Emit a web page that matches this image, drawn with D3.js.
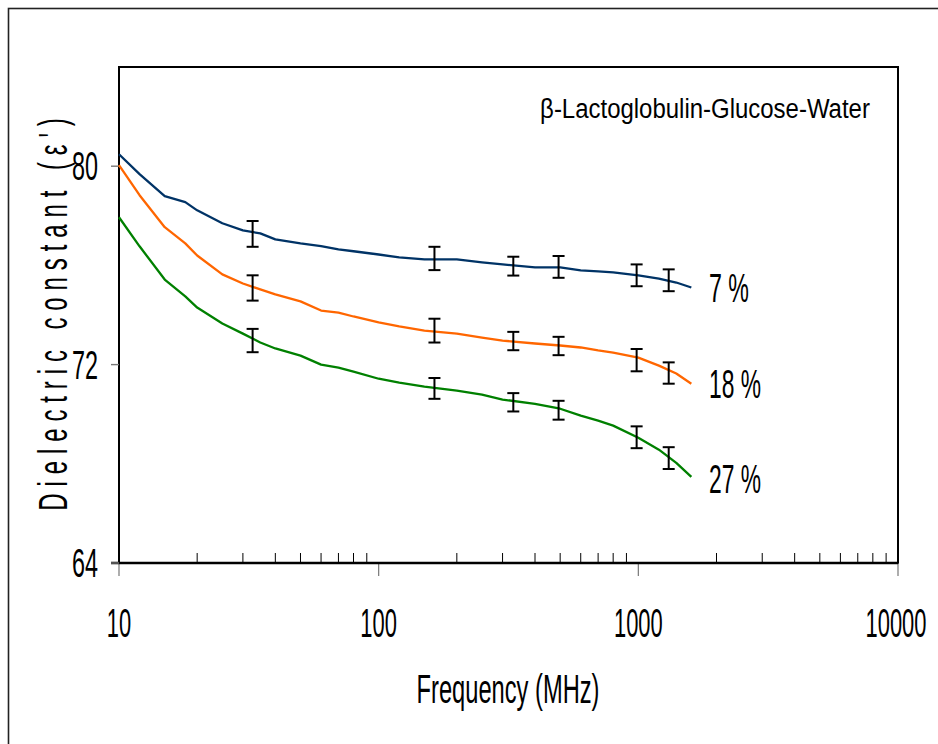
<!DOCTYPE html>
<html>
<head>
<meta charset="utf-8">
<script src="https://cdn.jsdelivr.net/npm/d3@7"></script>
<style>
  html, body { margin: 0; padding: 0; background: #fff; }
  svg { display: block; }
  text { font-family: "Liberation Sans", Arial, sans-serif; fill: #000; }
</style>
</head>
<body>
<svg id="chart" width="938" height="744"></svg>
<script>
// ---- data ----
const freqs = [10,12,15,18,20,25,30,35,40,50,60,70,80,100,120,150,200,250,300,400,500,600,700,800,1000,1200,1400,1600];
const series7  = [80.48,79.68,78.79,78.55,78.22,77.70,77.41,77.29,77.05,76.89,76.78,76.65,76.57,76.44,76.32,76.24,76.24,76.12,76.04,75.92,75.92,75.80,75.76,75.72,75.60,75.47,75.31,75.11];
const series18 = [80.04,78.83,77.54,76.89,76.40,75.64,75.27,75.03,74.83,74.55,74.18,74.10,73.94,73.70,73.54,73.37,73.25,73.09,72.97,72.85,72.77,72.69,72.57,72.48,72.28,71.96,71.64,71.23];
const series27 = [77.94,76.77,75.43,74.75,74.30,73.66,73.25,72.89,72.65,72.36,72.00,71.88,71.72,71.43,71.27,71.11,70.95,70.79,70.59,70.42,70.22,69.94,69.74,69.54,69.05,68.57,68.04,67.47];

const errFreqs = [32.7,164,330,493,985,1309];
const err7Mean  = [77.27,76.28,75.97,75.94,75.60,75.40];
const err7Size  = [0.52,0.47,0.38,0.44,0.44,0.44];
const err18Mean = [75.09,73.37,72.95,72.75,72.18,71.66];
const err18Size = [0.51,0.48,0.37,0.37,0.45,0.43];
const err27Mean = [72.97,71.04,70.48,70.16,69.07,68.23];
const err27Size = [0.47,0.42,0.37,0.38,0.44,0.44];

const seriesLabels = ["7 %","18 %","27 %"];
const yTicks = [64,72,80];
const xTicks = [10,100,1000,10000];
const chartTitle = "β-Lactoglobulin-Glucose-Water";
const xTitle = "Frequency (MHz)";
const yTitle = "Dielectric constant (ε')";

// ---- layout ----
const svg = d3.select("#chart");
const L = 119, R = 898, T = 67, B = 563;
const x = d3.scaleLog().domain([10,10000]).range([L,R]);
const y = d3.scaleLinear().domain([64,84]).range([B,T]);
const colors = ["#003366","#ff6600","#008000"];

// outer frame
svg.append("rect").attr("x",8.5).attr("y",8.5).attr("width",960).attr("height",760)
  .attr("fill","none").attr("stroke","#222").attr("stroke-width",1.6);

// plot frame
svg.append("rect").attr("x",L).attr("y",T).attr("width",R-L).attr("height",B-T)
  .attr("fill","none").attr("stroke","#000").attr("stroke-width",2);

// helper for condensed text: scaled horizontally to a target width
function ctext(g, str, px, py, width, size, anchor) {
  const grp = g.append("g");
  const t = grp.append("text").attr("x",0).attr("y",0)
    .attr("font-size",size).attr("text-anchor",anchor||"middle").text(str);
  const natural = t.node().getComputedTextLength();
  const sx = width / natural;
  grp.attr("transform",`translate(${px},${py}) scale(${sx},1)`);
  return t;
}

// x axis: minor ticks inside (black), major ticks below (gray)
const minor = [];
[10,100,1000].forEach(d => { for (let k=2;k<=9;k++) minor.push(d*k); });
svg.append("g").selectAll("line").data(minor).join("line")
  .attr("x1",d=>x(d)).attr("x2",d=>x(d)).attr("y1",B-10).attr("y2",B)
  .attr("stroke","#000").attr("stroke-width",1);
svg.append("g").selectAll("line").data(xTicks).join("line")
  .attr("x1",d=>x(d)).attr("x2",d=>x(d)).attr("y1",B).attr("y2",B+13)
  .attr("stroke","#777").attr("stroke-width",1.2);
svg.append("line").attr("x1",L-8).attr("x2",R).attr("y1",B).attr("y2",B)
  .attr("stroke","#000").attr("stroke-width",2.6);

const xl = svg.append("g");
xTicks.forEach(d => ctext(xl, String(d), x(d) - (d === 10000 ? 2 : 0), 637, String(d).length*12.2, 40));

// y axis ticks and labels
svg.append("g").selectAll("line").data(yTicks).join("line")
  .attr("x1",L-8).attr("x2",L).attr("y1",d=>y(d)).attr("y2",d=>y(d))
  .attr("stroke","#777").attr("stroke-width",1.4);
const yl = svg.append("g");
yTicks.forEach(d => ctext(yl, String(d), 98, y(d)+14, 26, 40, "end"));

// axis titles
ctext(svg, xTitle, 508, 703, 183, 40);
svg.append("g").attr("transform","translate(67,311) rotate(-90) scale(0.6,1)")
  .append("text").attr("x",0).attr("y",0).attr("font-size",40)
  .attr("text-anchor","middle").attr("letter-spacing",11.5).text(yTitle);

// chart title
ctext(svg, chartTitle, 705, 118, 330, 28);

// lines
const allSeries = [series7, series18, series27];
const line = d3.line().x(d=>x(d[0])).y(d=>y(d[1]));
allSeries.forEach((s,i) => {
  svg.append("path").datum(freqs.map((f,j)=>[f,s[j]]))
    .attr("d",line).attr("fill","none").attr("stroke",colors[i])
    .attr("stroke-width",2.3).attr("stroke-linejoin","round");
});

// error bars
const errSets = [[err7Mean,err7Size],[err18Mean,err18Size],[err27Mean,err27Size]];
const eg = svg.append("g").attr("stroke","#000").attr("stroke-width",2);
errSets.forEach(([m,e]) => {
  errFreqs.forEach((f,j) => {
    const cx = x(f), y0 = y(m[j]-e[j]), y1 = y(m[j]+e[j]);
    eg.append("line").attr("x1",cx).attr("x2",cx).attr("y1",y0).attr("y2",y1);
    eg.append("line").attr("x1",cx-6).attr("x2",cx+6).attr("y1",y0).attr("y2",y0);
    eg.append("line").attr("x1",cx-6).attr("x2",cx+6).attr("y1",y1).attr("y2",y1);
  });
});

// series labels
const labelY = [302, 398, 493];
const labelW = [40, 52, 52];
seriesLabels.forEach((t,i) => ctext(svg, t, 709, labelY[i], labelW[i], 40, "start"));
</script>
</body>
</html>
